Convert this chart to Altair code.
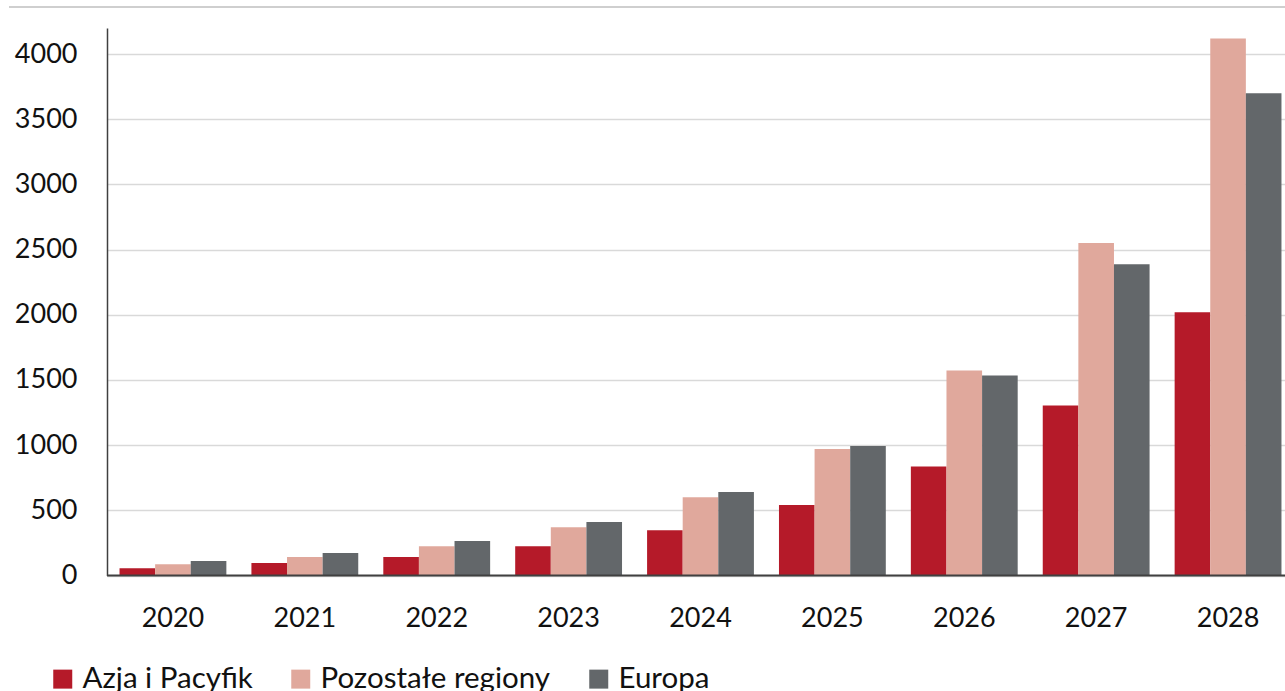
import altair as alt
import pandas as pd

# Yearly values per region
years = ["2020", "2021", "2022", "2023", "2024", "2025", "2026", "2027", "2028"]
series = ["Azja i Pacyfik", "Pozostałe regiony", "Europa"]
azja = [56, 96, 142, 225, 348, 540, 837, 1305, 2020]
pozostale = [87, 142, 225, 371, 601, 971, 1573, 2550, 4120]
europa = [111, 173, 265, 411, 641, 994, 1534, 2388, 3699]
colors = ["#B51A29", "#E0A89C", "#63676A"]
y_ticks = [0, 500, 1000, 1500, 2000, 2500, 3000, 3500, 4000]

rows = []
for name, vals in zip(series, [azja, pozostale, europa]):
    for yr, v in zip(years, vals):
        rows.append({"rok": yr, "region": name, "wartosc": v})
df = pd.DataFrame(rows)

W, H = 1178, 547.5
FONT = "Lato"

bars = alt.Chart(df).mark_bar().encode(
    x=alt.X(
        "rok:O",
        sort=years,
        title=None,
        scale=alt.Scale(paddingInner=0.19, paddingOuter=0.095, range=[0, 1187]),
        axis=alt.Axis(domain=False, ticks=False, labelAngle=0, labelPadding=30,
                      labelFontSize=27, labelFont=FONT, labelColor="#111111", grid=False),
    ),
    xOffset=alt.XOffset("region:N", sort=series, scale=alt.Scale(paddingInner=0, paddingOuter=0)),
    y=alt.Y(
        "wartosc:Q",
        title=None,
        scale=alt.Scale(domain=[0, 4200], nice=False),
        axis=alt.Axis(values=y_ticks, format="d", ticks=False, labelPadding=30,
                      labelFontSize=27, labelFont=FONT, labelColor="#111111",
                      domainColor="#404040", domainWidth=1.5,
                      gridColor="#D9D9D9", gridWidth=1.3),
    ),
    color=alt.Color(
        "region:N",
        sort=series,
        scale=alt.Scale(domain=series, range=colors),
        legend=alt.Legend(
            title=None, orient="none", direction="horizontal",
            legendX=-59, legendY=636, padding=0,
            symbolType="square", symbolSize=361, symbolStrokeWidth=0,
            symbolOpacity=1, labelFont=FONT, labelFontSize=29.5,
            labelColor="#111111", labelOffset=5, columnPadding=33,
            labelLimit=400,
        ),
    ),
)

one = alt.Data(values=[{}])

baseline = alt.Chart(one).mark_rule(color="#404040", strokeWidth=2).encode(
    x=alt.value(0), x2=alt.value(W), y=alt.datum(0)
)

top_rule = alt.Chart(one).mark_rule(color="#BFBFBF", strokeWidth=1.5).encode(
    x=alt.value(-98), x2=alt.value(W), y=alt.value(-21)
)

chart = alt.layer(bars, baseline, top_rule).properties(
    width=W, height=H,
    autosize=alt.AutoSizeParams(type="none"),
    padding={"left": 107, "top": 28, "right": 0, "bottom": 115.5},
    background="white",
).configure_view(stroke=None)

chart.save("out.html", embed_options={"renderer": "svg", "actions": False})
